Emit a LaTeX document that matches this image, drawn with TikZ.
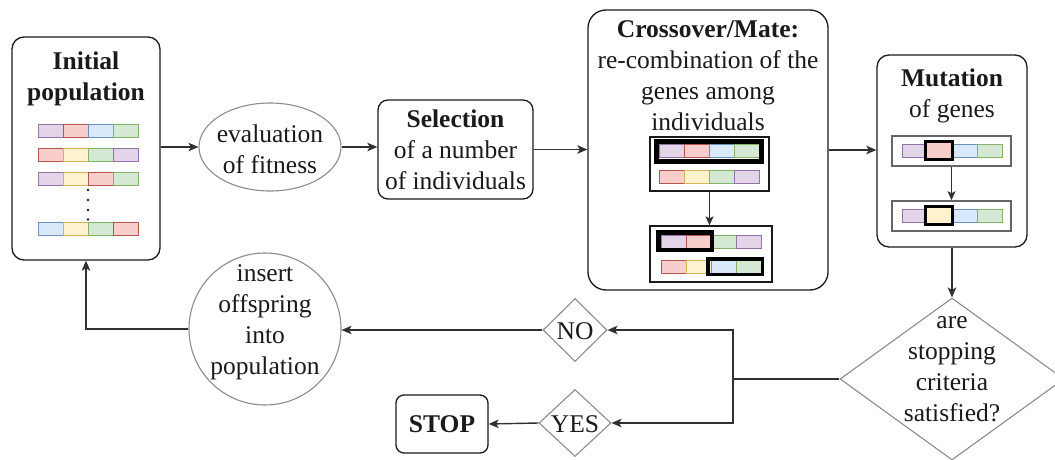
\documentclass[tikz,border=0pt]{standalone}
\usepackage{fontspec}
\setmainfont{Liberation Serif}
\usetikzlibrary{shapes.geometric,arrows.meta}
\definecolor{purF}{HTML}{E1D5E7}\definecolor{purD}{HTML}{9673A6}
\definecolor{redF}{HTML}{F8CECC}\definecolor{redD}{HTML}{B85450}
\definecolor{bluF}{HTML}{DAE8FC}\definecolor{bluD}{HTML}{6C8EBF}
\definecolor{grnF}{HTML}{D5E8D4}\definecolor{grnD}{HTML}{82B366}
\definecolor{yelF}{HTML}{FFF2CC}\definecolor{yelD}{HTML}{D6B656}
\definecolor{ink}{HTML}{1A1A1A}
\definecolor{edge}{HTML}{8C8C8C}
\tikzset{
  gp/.style={fill=purF,draw=purD,line width=1pt},
  gr/.style={fill=redF,draw=redD,line width=1pt},
  gb/.style={fill=bluF,draw=bluD,line width=1pt},
  gg/.style={fill=grnF,draw=grnD,line width=1pt},
  gy/.style={fill=yelF,draw=yelD,line width=1pt},
  box/.style={draw=ink,line width=1.3pt,rounded corners=12pt,inner sep=0pt},
  txt/.style={font=\fontsize{25.5}{31}\selectfont,align=center,text=ink,inner sep=0pt},
  soft/.style={draw=edge,line width=1.1pt,inner sep=0pt},
  inbox/.style={draw=ink,line width=1.3pt,inner sep=0pt},
  mbox/.style={draw=black!60,line width=1.6pt,inner sep=0pt},
  conn/.style={draw=ink!90,line width=1.4pt,-{Stealth[length=10pt,width=8.5pt,inset=2.5pt]}},
  plain/.style={draw=ink!90,line width=1.4pt},
  thick/.style={draw=black,line width=4.5pt},
}
\newcommand{\generow}[7]{%
  \draw[#4] (#1,#2) rectangle ++(#3,13);
  \draw[#5] (#1+#3,#2) rectangle ++(#3,13);
  \draw[#6] (#1+2*#3,#2) rectangle ++(#3,13);
  \draw[#7] (#1+3*#3,#2) rectangle ++(#3,13);}
\begin{document}
\begin{tikzpicture}[x=1pt,y=-1pt]
\useasboundingbox (0,0) rectangle (1055,460);
% main boxes
\node[box,minimum width=148pt,minimum height=223pt] (init) at (86,148.5) {};
\node[txt,font=\fontsize{25.5}{31}\selectfont\bfseries] (initT) at (86,79) {Initial\\population};
\node[soft,ellipse,minimum width=142pt,minimum height=88pt] (eval) at (270,147) {};
\node[txt] (evalT) at (270,149) {evaluation\\of fitness};
\node[box,rounded corners=10pt,minimum width=155pt,minimum height=99pt,txt] (sel) at (455.5,149.5) {\textbf{Selection}\\of a number\\of individuals};
\node[box,rounded corners=18pt,minimum width=240pt,minimum height=280pt] (cross) at (708,150) {};
\node[txt] (crossT) at (708,76) {\textbf{Crossover/Mate:}\\re-combination of the\\genes among\\individuals};
\node[box,minimum width=150pt,minimum height=192pt] (mut) at (952,151) {};
\node[txt] (mutT) at (952,96) {\textbf{Mutation}\\of genes};
\node[soft,diamond,minimum width=224pt,minimum height=162pt] (dec) at (952,379) {};
\node[txt] (decT) at (952,369) {are\\stopping\\criteria\\satisfied?};
\node[soft,diamond,minimum width=64pt,minimum height=63pt] (no) at (575,330) {};
\node[txt] (noT) at (575,331) {NO};
\node[soft,diamond,minimum width=72pt,minimum height=67pt] (yes) at (575,423) {};
\node[txt] (yesT) at (575,424) {YES};
\node[box,rounded corners=8pt,minimum width=92pt,minimum height=58pt,txt] (stop) at (442,424) {\textbf{STOP}};
\node[soft,circle,minimum size=152pt] (ins) at (265,329) {};
\node[txt] (insT) at (265,322) {insert\\offspring\\into\\population};
% initial population genes
\generow{38}{124}{25}{gp}{gr}{gb}{gg}
\generow{38}{148}{25}{gr}{gy}{gg}{gp}
\generow{38}{172.5}{25}{gp}{gy}{gr}{gg}
\generow{38}{222.5}{25}{gb}{gy}{gg}{gr}
\foreach \yy [count=\k] in {190,200,210,219.5} {\fill[ink] (88,\yy) circle (1.4pt);}
% crossover inner boxes
\node[inbox,minimum width=119pt,minimum height=54pt] (c1) at (709.5,164) {};
\node[inbox,minimum width=122pt,minimum height=56pt] (c2) at (711,254) {};
\generow{659}{144.5}{25}{gp}{gr}{gb}{gg}
\draw[thick,line width=5pt] (656,141.5) rectangle (761.5,161);
\generow{659}{170}{25}{gr}{gy}{gg}{gp}
\generow{661}{235}{25}{gp}{gr}{gg}{gp}
\draw[thick] (658.25,232.25) rectangle (711.75,249.75);
\generow{661}{260}{25}{gr}{gy}{gb}{gg}
\draw[thick,line width=3.5pt] (707.75,258.75) rectangle (762.25,274.25);
\draw[conn,-{Stealth[length=9pt,width=8pt,inset=2pt]}] (c1.south) -- (c1.south |- c2.north);
% mutation inner boxes
\node[mbox,minimum width=119pt,minimum height=30pt] (m1) at (951.5,151) {};
\node[mbox,minimum width=119pt,minimum height=30pt] (m2) at (951.5,216) {};
\generow{902}{144}{25}{gp}{gr}{gb}{gg}
\draw[gr,draw=black,line width=3.5pt] (925.5,141.5) rectangle (952.5,159.5);
\generow{902}{209}{25}{gp}{gy}{gb}{gg}
\draw[gy,draw=black,line width=3.5pt] (925.5,206.5) rectangle (952.5,224.5);
\draw[conn,-{Stealth[length=9pt,width=8pt,inset=2pt]}] (m1.south) -- (m2.north);
% connectors
\draw[conn] (eval.west -| init.east) -- (eval.west);
\draw[conn] (eval.east) -- (eval.east -| sel.west);
\draw[conn] (sel.east) -- (sel.east -| cross.west);
\draw[conn] (cross.east) -- (cross.east -| mut.west);
\draw[conn] (mut.south) -- (dec.north);
\coordinate (split) at (733,379);
\draw[plain] (dec.west) -- (split);
\draw[conn] (split) |- (no.east);
\draw[conn] (split) |- (yes.east);
\draw[conn] (no.west) -- (no.west -| ins.east);
\draw[conn] (yes.west) -- (stop.east);
\draw[conn] (ins.west) -| (init.south);
\end{tikzpicture}
\end{document}
